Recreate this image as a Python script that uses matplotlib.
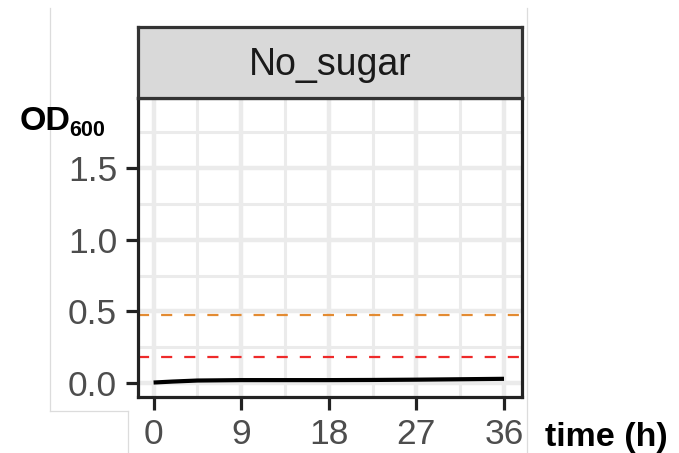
import matplotlib
matplotlib.use("Agg")
import matplotlib.pyplot as plt
from matplotlib.lines import Line2D
from matplotlib.patches import Rectangle

# growth curve, no-sugar condition
time_h = [0, 2, 4.5, 9, 13.5, 18, 22.5, 27, 31.5, 36]
od600 = [0.003, 0.010, 0.017, 0.020, 0.020, 0.020, 0.021, 0.023, 0.026, 0.029]

# reference levels drawn as dashed lines
level_orange = 0.475
level_red = 0.18

x_ticks = [0, 9, 18, 27, 36]
x_minor = [4.5, 13.5, 22.5, 31.5]
y_ticks = [0.0, 0.5, 1.0, 1.5]
y_tick_labels = ["0.0", "0.5", "1.0", "1.5"]
y_minor = [0.25, 0.75, 1.25, 1.75]
facet_label = "No_sugar"

W, H = 679, 453
plt.rcParams['font.family'] = ['Liberation Sans', 'DejaVu Sans']

fig = plt.figure(figsize=(W / 100, H / 100), dpi=100)


def fx(px):
    return px / W


def fy(py):
    return 1 - py / H


# panel placement in pixels
left, right, top, bottom = 138, 522, 98, 397
strip_top = 27

ax = fig.add_axes([fx(left), fy(bottom), fx(right - left), (bottom - top) / H])
ax.set_xlim(-1.6, 37.85)
ax.set_ylim(-0.098, 1.99)

grid_col = "#EBEBEB"
for v in x_minor:
    ax.axvline(v, color=grid_col, lw=2.2, zorder=0)
for v in y_minor:
    ax.axhline(v, color=grid_col, lw=2.2, zorder=0)
for v in x_ticks:
    ax.axvline(v, color=grid_col, lw=3.2, zorder=0)
for v in y_ticks:
    ax.axhline(v, color=grid_col, lw=3.2, zorder=0)

ax.axhline(level_orange, color="#E38B32", lw=1.6, dashes=(5.0, 5.4), zorder=2)
ax.axhline(level_red, color="#EE2A2A", lw=1.6, dashes=(5.0, 5.4), zorder=2)
ax.plot(time_h, od600, color="black", lw=3.0, solid_capstyle="butt", zorder=3)

ax.set_xticks(x_ticks)
ax.set_xticklabels([str(t) for t in x_ticks])
ax.set_yticks(y_ticks)
ax.set_yticklabels(y_tick_labels)
ax.tick_params(axis="both", length=9, width=2.3, color="#222222",
               labelsize=25.5, labelcolor="#4D4D4D", pad=6)
for s in ax.spines.values():
    s.set_color("#222222")
    s.set_linewidth(2.3)

# facet strip
sax = fig.add_axes([fx(left), fy(top), fx(right - left), (top - strip_top) / H])
sax.set_xlim(0, 1)
sax.set_ylim(0, 1)
sax.add_patch(Rectangle((0, 0), 1, 1, facecolor="#D9D9D9", edgecolor="none"))
sax.set_xticks([])
sax.set_yticks([])
for s in sax.spines.values():
    s.set_color("#333333")
    s.set_linewidth(2.3)
sax.text(0.5, 0.47, facet_label, ha="center", va="center", fontsize=27, color="#1A1A1A")

# axis titles
fig.text(fx(20), fy(130), "OD", fontsize=24.5, fontweight="bold", ha="left", va="baseline")
fig.text(fx(69), fy(136), "600", fontsize=15.5, fontweight="bold", ha="left", va="baseline")
fig.text(fx(545), fy(446), "time (h)", fontsize=24.5, fontweight="bold", ha="left", va="baseline")

# faint frame lines around the plot region
frame_col = "#DCDCDC"
for xs, ys in [((50, 50), (8, 411)), ((50, 128), (411, 411)),
               ((128, 128), (411, 453)), ((527, 527), (8, 453))]:
    fig.add_artist(Line2D([fx(xs[0]), fx(xs[1])], [fy(ys[0]), fy(ys[1])],
                          color=frame_col, lw=0.9, transform=fig.transFigure))

fig.savefig("out.png", dpi=100)
